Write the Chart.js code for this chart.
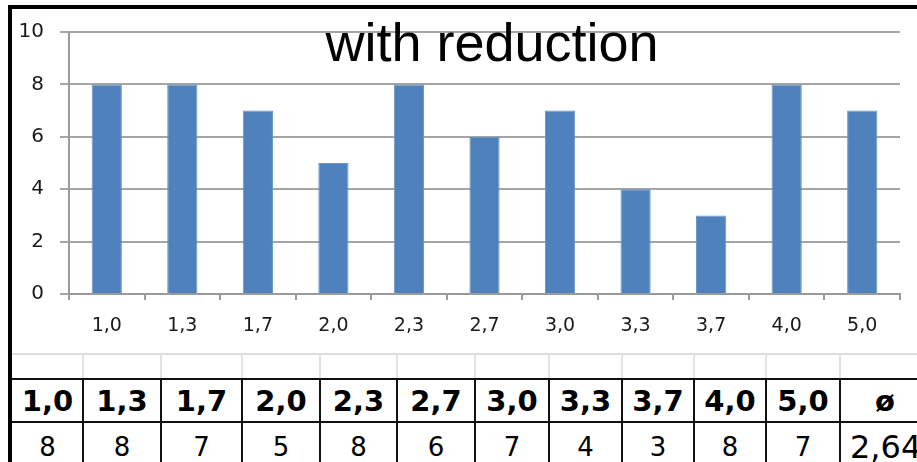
<!DOCTYPE html>
<html>
<head>
<meta charset="utf-8">
<script src="https://cdn.jsdelivr.net/npm/chart.js@4/dist/chart.umd.min.js"></script>
<style>
    html, body { margin: 0; padding: 0; background: #fff; }
    body { width: 917px; height: 462px; position: relative; overflow: hidden; }
    #chartBox { position: absolute; left: 0; top: 0; width: 917px; height: 350px; }
    #title {
        position: absolute; left: 290px; width: 404px; top: 11px;
        text-align: center; font: 54px "Liberation Sans", Arial, sans-serif; color: #000;
        line-height: 62px; pointer-events: none;
    }
    .frame { position: absolute; background: #000; }
    .line { position: absolute; }
    .cell {
        position: absolute; display: flex; align-items: center; justify-content: center;
        font-family: "DejaVu Sans", sans-serif; color: #000; white-space: nowrap;
    }
</style>
</head>
<body>
<div id="chartBox"><canvas id="chart"></canvas></div>
<div id="title">with reduction</div>
<div id="table"></div>

<script>
// grades (x axis) and how often each one was given
const grades = ['1,0', '1,3', '1,7', '2,0', '2,3', '2,7', '3,0', '3,3', '3,7', '4,0', '5,0'];
const counts = [8, 8, 7, 5, 8, 6, 7, 4, 3, 8, 7];
const averageLabel = 'ø';
const averageValue = '2,64';
const yTicks = [0, 2, 4, 6, 8, 10];

const ctx = document.getElementById('chart').getContext('2d');
const chart = new Chart(ctx, {
    type: 'bar',
    data: {
        labels: grades,
        datasets: [{
            data: counts,
            backgroundColor: '#4f81bd',
            borderColor: '#6a95c9',
            borderWidth: 1,
            categoryPercentage: 1,
            barPercentage: 0.4
        }]
    },
    options: {
        responsive: true,
        maintainAspectRatio: false,
        animation: false,
        layout: { padding: { left: 12, top: 32, right: 17, bottom: 0 } },
        plugins: {
            legend: { display: false },
            title: { display: false },
            tooltip: { enabled: false }
        },
        scales: {
            x: {
                offset: true,
                grid: {
                    offset: true,
                    drawOnChartArea: false,
                    drawTicks: true,
                    tickLength: 6,
                    color: '#9a9a9a',
                    lineWidth: 2
                },
                border: { color: '#9a9a9a', width: 2 },
                ticks: {
                    color: '#1a1a1a',
                    padding: 15,
                    maxRotation: 0,
                    font: { family: 'DejaVu Sans', size: 19 }
                },
                afterFit: (scale) => { scale.height = 56; }
            },
            y: {
                min: yTicks[0],
                max: yTicks[yTicks.length - 1],
                afterBuildTicks: (scale) => { scale.ticks = yTicks.map(v => ({ value: v })); },
                grid: {
                    tickLength: 9,
                    color: '#a5a5a5',
                    lineWidth: 2
                },
                border: { color: '#9a9a9a', width: 2 },
                ticks: {
                    color: '#1a1a1a',
                    padding: 16,
                    font: { family: 'DejaVu Sans', size: 20 }
                },
                afterFit: (scale) => { scale.width = 57; }
            }
        }
    }
});

// table under the chart: plain divs, column edges
const table = document.getElementById('table');
const colEdges = [12, 83, 161, 242, 320, 397, 475, 549, 622, 694, 766, 840, 930];

function addDiv(cls, css, text) {
    const d = document.createElement('div');
    d.className = cls;
    Object.assign(d.style, css);
    if (text !== undefined) d.textContent = text;
    table.appendChild(d);
    return d;
}

// outer black frame (top and left)
addDiv('frame', { left: '8px', top: '5px', width: '909px', height: '4px' });
addDiv('frame', { left: '8px', top: '5px', width: '4px', height: '457px' });

// light empty row
addDiv('line', { left: '12px', top: '353px', width: '905px', height: '2px', background: '#dcdcdc' });
colEdges.slice(1, -1).forEach(x => {
    addDiv('line', { left: (x - 1) + 'px', top: '354px', width: '2px', height: '25px', background: '#e2e2e2' });
});

// black grid of the grade table
addDiv('line', { left: '12px', top: '378px', width: '905px', height: '2px', background: '#111' });
addDiv('line', { left: '12px', top: '421px', width: '905px', height: '2px', background: '#111' });
colEdges.slice(1, -1).forEach(x => {
    addDiv('line', { left: (x - 1) + 'px', top: '378px', width: '2px', height: '84px', background: '#111' });
});

const headers = grades.concat([averageLabel]);
const values = counts.map(String).concat([averageValue]);
headers.forEach((h, i) => {
    const left = colEdges[i], w = colEdges[i + 1] - colEdges[i];
    addDiv('cell', { left: left + 'px', width: w + 'px', top: '380px', height: '41px',
        fontSize: '29px', fontWeight: 'bold' }, h);
    const last = i === headers.length - 1;
    addDiv('cell', { left: (last ? left + 10 : left) + 'px', width: w + 'px', top: '424px', height: '46px',
        fontSize: last ? '32px' : '26px', justifyContent: last ? 'flex-start' : 'center' }, values[i]);
});
</script>
</body>
</html>
